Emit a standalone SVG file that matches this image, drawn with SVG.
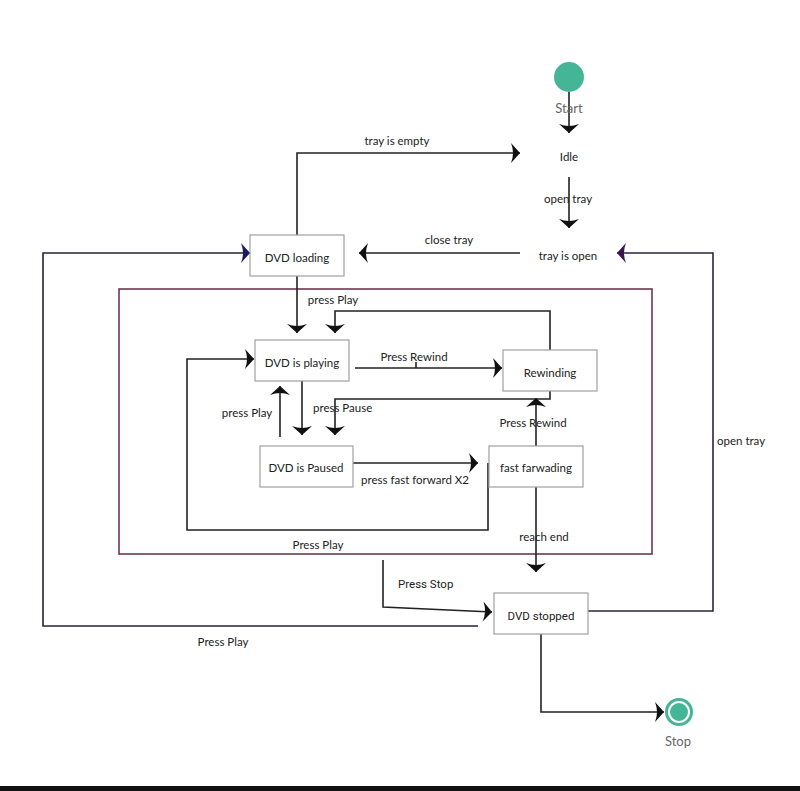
<svg xmlns="http://www.w3.org/2000/svg" width="800" height="791" viewBox="0 0 800 791">
<defs>
<style>
.box{fill:#fff;stroke:#a0a0a0;stroke-width:1.2}
.t{font-family:Lato,"Liberation Sans",sans-serif;font-size:11.5px;fill:#222;text-anchor:middle}
.tl{font-family:Lato,"Liberation Sans",sans-serif;font-size:11.5px;fill:#222}
.tr{font-family:Roboto,"Liberation Sans",sans-serif;font-size:11.5px;fill:#222}
.g{font-family:Lato,"Liberation Sans",sans-serif;font-size:13px;fill:#666;text-anchor:middle}
.c{fill:none;stroke:#222;stroke-width:1.6}
.cn{fill:none;stroke:#26223c;stroke-width:1.6}
.cp{fill:none;stroke:#2e2440;stroke-width:1.6}
</style>
<marker id="a" markerUnits="userSpaceOnUse" markerWidth="22" markerHeight="22" viewBox="-11 -11 22 22" refX="0" refY="0" orient="auto">
<path d="M0,0 L-9,-10 Q-5,0 -9,10 Z" fill="#111"/>
</marker>
<marker id="an" markerUnits="userSpaceOnUse" markerWidth="22" markerHeight="22" viewBox="-11 -11 22 22" refX="0" refY="0" orient="auto">
<path d="M0,0 L-9,-10 Q-5,0 -9,10 Z" fill="#1c1a5c"/>
</marker>
<marker id="ap" markerUnits="userSpaceOnUse" markerWidth="22" markerHeight="22" viewBox="-11 -11 22 22" refX="0" refY="0" orient="auto">
<path d="M0,0 L-9,-10 Q-5,0 -9,10 Z" fill="#3a1450"/>
</marker>
</defs>
<rect width="800" height="791" fill="#fff"/>
<rect x="0" y="786" width="800" height="5" fill="#111"/>

<g id="frame">
<rect x="119" y="289" width="533" height="265" fill="none" stroke="#6e3650" stroke-width="1.6"/>
</g>

<g id="connectors">
<path class="c" d="M569,92 V133" marker-end="url(#a)"/>
<path class="c" d="M569,177 V228" marker-end="url(#a)"/>
<path class="c" d="M520,253 H359" marker-end="url(#a)"/>
<text class="t" x="449" y="244">close tray</text>
<path class="c" d="M297,235 V153 H520" marker-end="url(#a)"/>
<text class="t" x="397" y="145">tray is empty</text>
<path class="cn" d="M478,626 H43 V253 H250" marker-end="url(#an)"/>
<text class="t" x="223" y="646">Press Play</text>
<path class="cp" d="M588,611 H713 V253 H617" marker-end="url(#ap)"/>
<text class="tl" x="717" y="445">open tray</text>
<text class="t" x="568" y="203">open tray</text>
<path class="c" d="M297,276 V333" marker-end="url(#a)"/>
<text class="t" x="333" y="304">press Play</text>
<path class="c" d="M550,350 V311 H335 V333" marker-end="url(#a)"/>
<path class="c" d="M355,368 H502" marker-end="url(#a)"/>
<path class="c" d="M416,362 V368"/>
<text class="t" x="414" y="361">Press Rewind</text>
<path class="c" d="M550,391 V399 H335 V435" marker-end="url(#a)"/>
<text class="tl" x="313" y="412">press Pause</text>
<path class="c" d="M302,381 V435" marker-end="url(#a)"/>
<path class="c" d="M280,437 V386" marker-end="url(#a)"/>
<text class="t" x="247" y="417">press Play</text>
<path class="c" d="M353,463 H478" marker-end="url(#a)"/>
<text class="t" x="415" y="484">press fast forward X2</text>
<path class="c" d="M536,446 V398" marker-end="url(#a)"/>
<text class="t" x="533" y="427">Press Rewind</text>
<path class="c" d="M488,463 V530 H187 V359 H254" marker-end="url(#a)"/>
<text class="t" x="318" y="549">Press Play</text>
<path class="c" d="M536,487 V572" marker-end="url(#a)"/>
<text class="t" x="544" y="541">reach end</text>
<path class="c" d="M383,560 V607 L492,612" marker-end="url(#a)"/>
<text class="tr" x="398" y="588">Press Stop</text>
<path class="c" d="M541,634 V712 H664" marker-end="url(#a)"/>
</g>

<g id="start">
<circle cx="569" cy="77" r="15" fill="#45b597"/>
<text class="g" x="569" y="113">Start</text>
</g>
<g id="idle"><text class="t" x="569" y="161">Idle</text></g>
<g id="tray-open"><text class="t" x="568" y="260">tray is open</text></g>
<g id="dvd-loading"><rect class="box" x="250" y="235" width="94" height="41"/><text class="t" x="297" y="262">DVD loading</text></g>
<g id="dvd-playing"><rect class="box" x="255" y="340" width="94" height="41"/><text class="t" x="302" y="367">DVD is playing</text></g>
<g id="rewinding"><rect class="box" x="503" y="350" width="94" height="41"/><text class="t" x="550" y="377">Rewinding</text></g>
<g id="dvd-paused"><rect class="box" x="260" y="446" width="93" height="41"/><text class="t" x="306" y="472">DVD is Paused</text></g>
<g id="fast-forwarding"><rect class="box" x="489" y="446" width="94" height="41"/><text class="t" x="536" y="472">fast farwading</text></g>
<g id="dvd-stopped"><rect class="box" x="494" y="593" width="94" height="41"/><text class="t" x="541" y="620" style="font-family:Roboto,'Liberation Sans',sans-serif">DVD stopped</text></g>
<g id="stop">
<circle cx="679" cy="712" r="14" fill="#45b597"/>
<circle cx="679" cy="712" r="10" fill="none" stroke="#fff" stroke-width="2"/>
<text class="g" x="678" y="746">Stop</text>
</g>
</svg>
